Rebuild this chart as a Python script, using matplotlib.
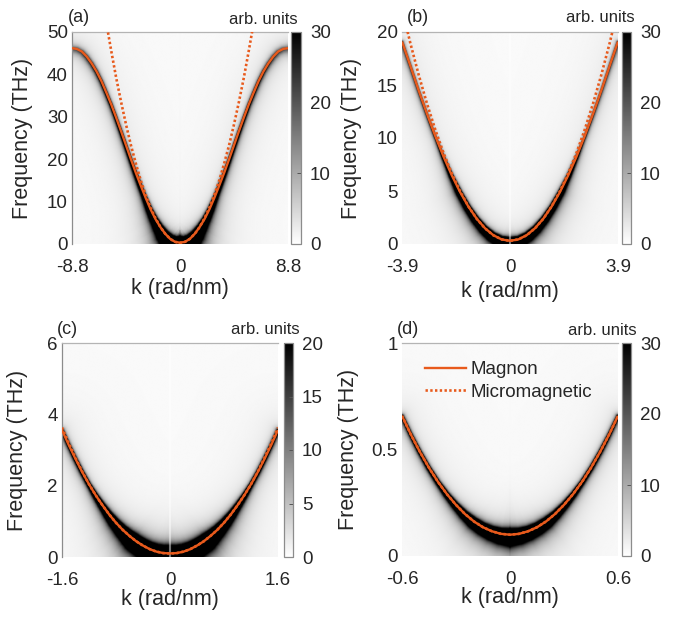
import numpy as np
import matplotlib
matplotlib.use("Agg")
import matplotlib.pyplot as plt
from matplotlib.lines import Line2D

plt.rcParams['font.family'] = ['Liberation Sans', 'DejaVu Sans']

W, H, DPI = 689, 618, 100
ORANGE = '#E85A1C'
TXT = '#262626'
FS_TICK, FS_LAB, FS_PANEL, FS_ARB, FS_LEG = 13.5, 15.5, 13, 12, 13.5

# ---------------- dispersion data (k >= 0 branch; curves are even in k) ----------------
# (a) whole zone
k_a = [0.0, 0.4, 0.8, 1.2, 1.6, 2.0, 2.4, 2.8, 3.2, 3.6, 4.0, 4.4,
       4.8, 5.2, 5.6, 6.0, 6.4, 6.8, 7.2, 7.6, 8.0, 8.4, 8.8]
magnon_a = [0.3, 0.5, 1.2, 2.4, 4.0, 5.9, 8.2, 10.9, 13.8, 16.8, 20.0, 23.3,
            26.6, 29.8, 32.9, 35.7, 38.4, 40.7, 42.6, 44.2, 45.4, 46.0, 46.2]
micro_k_a = [0.0, 0.4, 0.8, 1.2, 1.6, 2.0, 2.4, 2.8, 3.2, 3.6, 4.0, 4.4, 4.8, 5.2, 5.6, 6.0]
micro_a = [0.3, 0.5, 1.2, 2.4, 4.0, 6.1, 8.6, 11.6, 15.0, 19.0, 23.3, 28.2, 33.5, 39.2, 45.5, 52.1]

# (b)
k_b = [0.0, 0.3, 0.6, 0.9, 1.2, 1.5, 1.8, 2.1, 2.4, 2.7, 3.0, 3.3, 3.6, 3.9]
magnon_b = [0.30, 0.43, 0.83, 1.48, 2.38, 3.52, 4.89, 6.47, 8.24, 10.19, 12.29, 14.50, 16.82, 19.1]
micro_b = [0.30, 0.43, 0.82, 1.47, 2.37, 3.54, 4.97, 6.65, 8.59, 10.80, 13.26, 15.98, 18.96, 22.20]

# (c)
k_c = [0.0, 0.1, 0.2, 0.3, 0.4, 0.5, 0.6, 0.7, 0.8, 0.9, 1.0, 1.1, 1.2, 1.3, 1.4, 1.5, 1.6]
magnon_c = [0.10, 0.11, 0.15, 0.22, 0.32, 0.44, 0.59, 0.76, 0.96, 1.19, 1.45, 1.73, 2.04,
            2.38, 2.75, 3.14, 3.56]
micro_c = [0.10, 0.11, 0.15, 0.22, 0.32, 0.44, 0.59, 0.76, 0.96, 1.19, 1.45, 1.73, 2.04,
           2.39, 2.78, 3.19, 3.63]

# (d)
k_d = [0.0, 0.05, 0.1, 0.15, 0.2, 0.25, 0.3, 0.35, 0.4, 0.45, 0.5, 0.55, 0.6]
magnon_d = [0.100, 0.104, 0.116, 0.135, 0.162, 0.197, 0.240, 0.290, 0.348, 0.414, 0.488, 0.569, 0.658]
micro_d = [0.100, 0.104, 0.116, 0.135, 0.162, 0.197, 0.240, 0.290, 0.348, 0.414, 0.488, 0.569, 0.658]

# axis limits and tick labels
kmax = {'a': 8.8, 'b': 3.9, 'c': 1.6, 'd': 0.6}
fmax = {'a': 50, 'b': 20, 'c': 6, 'd': 1}
yticks = {'a': [0, 10, 20, 30, 40, 50], 'b': [0, 5, 10, 15, 20],
          'c': [0, 2, 4, 6], 'd': [0, 0.5, 1]}
ytick_labels = {'a': ['0', '10', '20', '30', '40', '50'], 'b': ['0', '5', '10', '15', '20'],
                'c': ['0', '2', '4', '6'], 'd': ['0', '0.5', '1']}
xtick_labels = {'a': ['-8.8', '0', '8.8'], 'b': ['-3.9', '0', '3.9'],
                'c': ['-1.6', '0', '1.6'], 'd': ['-0.6', '0', '0.6']}
cmax = {'a': 30, 'b': 30, 'c': 20, 'd': 30}
cticks = {'a': [0, 10, 20, 30], 'b': [0, 10, 20, 30], 'c': [0, 5, 10, 15, 20], 'd': [0, 10, 20, 30]}

curves = {'a': (k_a, magnon_a, micro_k_a, micro_a),
          'b': (k_b, magnon_b, k_b, micro_b),
          'c': (k_c, magnon_c, k_c, micro_c),
          'd': (k_d, magnon_d, k_d, micro_d)}

# spectral weight along the branch (vs |k|/kmax) and line-width settings
amp_nodes = {'a': ([0, 0.1, 0.2, 0.33, 0.45, 0.6, 0.8, 1.0], [220, 90, 30, 8, 4, 2.2, 1.1, 0.6]),
             'b': ([0, 0.24, 0.47, 0.68, 0.85, 1.0], [60, 26, 12, 1.8, 1.2, 1.0]),
             'c': ([0, 0.34, 0.52, 0.75, 0.92, 1.0], [150, 85, 26, 3.8, 2.0, 1.5]),
             'd': ([0, 0.33, 0.67, 1.0], [88, 35, 5, 1.5])}
# (w_below, w_below_edge, w_above, w_above_edge, k=0 stripe)
widths = {'a': (0.006, 0.015, 0.002, 0.012, +0.25),
          'b': (0.006, 0.004, 0.002, 0.003, -0.85),
          'c': (0.006, 0.004, 0.003, 0.003, -0.85),
          'd': (0.006, 0.004, 0.003, 0.003, +0.15)}

# panel geometry in pixels: axes (l, t, r, b), colorbar (l, r)
geom = {'a': ((72, 32, 288, 244), (291, 301)),
        'b': ((402, 32, 618, 244), (622, 631)),
        'c': ((62, 343, 278, 557), (284, 293)),
        'd': ((402, 343, 618, 556), (622, 631))}
ylab_x = {'a': 23, 'b': 352, 'c': 18, 'd': 349}
xlab_y = {'a': 289, 'b': 291, 'c': 600, 'd': 598}
plab = {'a': (68, 17.5), 'b': (407, 17), 'c': (57, 330), 'd': (397, 330)}
arb_pos = {'a': (298, 24), 'b': (635, 22), 'c': (300, 334), 'd': (637, 335)}


def rect(l, t, r, b):
    return [l / W, 1 - b / H, (r - l) / W, (b - t) / H]


def spectral_map(k_pts, f_pts, km, fm, nodes, wid, nx=330, ny=270):
    wl0, wl1, wh0, wh1, stripe = wid
    kk = np.linspace(-km, km, nx)
    ff = np.linspace(0, fm, ny)
    kc = np.linspace(-km, km, 500)
    fc = np.interp(np.abs(kc), k_pts, f_pts)
    xc, yc = kc / (2 * km), fc / fm
    xg = kk / (2 * km)
    dist = np.empty((ny, nx))
    near = np.empty((ny, nx), dtype=int)
    for j, f in enumerate(ff):
        d2 = (xg[:, None] - xc[None, :]) ** 2 + (f / fm - yc[None, :]) ** 2
        near[j] = np.argmin(d2, axis=1)
        dist[j] = np.sqrt(d2[np.arange(nx), near[j]])
    f0 = np.interp(np.abs(kk), k_pts, f_pts)
    below = ff[:, None] < f0[None, :]
    kn = np.abs(kc[near]) / km
    amp = np.exp(np.interp(kn, nodes[0], np.log(nodes[1])))
    w = np.where(below, wl0 + wl1 * kn ** 4, wh0 + wh1 * kn ** 4)
    inten = amp * w ** 2 / (dist ** 2 + w ** 2)
    inten += 0.04 * 0.12 ** 2 / (dist ** 2 + 0.12 ** 2) + 0.02
    inten = np.minimum(inten, 1.0)
    col = 1 + stripe * np.exp(-(kk / (km * 0.006)) ** 2)
    return inten * col[None, :]


fig = plt.figure(figsize=(W / DPI, H / DPI), dpi=DPI)

for p in ['a', 'b', 'c', 'd']:
    (l, t, r, b), (cl, cr) = geom[p]
    km, fm = kmax[p], fmax[p]
    kx, fy, mkx, mfy = curves[p]
    ax = fig.add_axes(rect(l, t, r, b))
    img = spectral_map(kx, fy, km, fm, amp_nodes[p], widths[p]) * cmax[p]
    im = ax.imshow(img, extent=[-km, km, 0, fm], origin='lower', aspect='auto',
                   cmap='gray_r', vmin=0, vmax=cmax[p], interpolation='bilinear')

    kx = np.asarray(kx); fy = np.asarray(fy)
    mkx = np.asarray(mkx); mfy = np.asarray(mfy)
    ax.plot(np.concatenate([-mkx[::-1], mkx[1:]]), np.concatenate([mfy[::-1], mfy[1:]]),
            color=ORANGE, lw=1.9, linestyle=(0, (0.9, 0.9)), dash_capstyle='butt',
            zorder=3)
    ax.plot(np.concatenate([-kx[::-1], kx[1:]]), np.concatenate([fy[::-1], fy[1:]]),
            color=ORANGE, lw=1.7, solid_capstyle='butt', zorder=4)

    ax.set_xlim(-km, km)
    ax.set_ylim(0, fm)
    ax.set_xticks([-km, 0, km])
    ax.set_xticklabels(xtick_labels[p])
    ax.set_yticks(yticks[p])
    ax.set_yticklabels(ytick_labels[p])
    ax.tick_params(length=0, labelsize=FS_TICK, colors=TXT)
    ax.tick_params(axis='x', pad=10.5)
    ax.tick_params(axis='y', pad=3)
    for s in ['bottom', 'right']:
        ax.spines[s].set_visible(False)
    ax.spines['top'].set_color('#b4b4b4')
    ax.spines['top'].set_linewidth(0.9)
    if p in ('a', 'c'):
        ax.spines['left'].set_color('#8c8c8c')
        ax.spines['left'].set_linewidth(0.9)
    else:
        ax.spines['left'].set_visible(False)

    # colorbar
    cax = fig.add_axes(rect(cl, t, cr, b))
    cb = fig.colorbar(im, cax=cax, ticks=cticks[p])
    cb.outline.set_edgecolor('#8c8c8c')
    cb.outline.set_linewidth(0.9)
    cax.tick_params(direction='in', length=3, width=0.7, color='#555555',
                    labelsize=FS_TICK, labelcolor=TXT, pad=6.5)
    ax_, ay_ = arb_pos[p]
    fig.text(ax_ / W, 1 - ay_ / H, 'arb. units', ha='right', va='baseline',
             fontsize=FS_ARB, color=TXT)

    # labels
    fig.text(ylab_x[p] / W, 1 - (t + b) / 2 / H, 'Frequency (THz)', rotation=90,
             ha='center', va='center', fontsize=FS_LAB, color=TXT)
    fig.text((l + r) / 2 / W, 1 - xlab_y[p] / H, 'k (rad/nm)', ha='center', va='center',
             fontsize=FS_LAB, color=TXT)
    px, py = plab[p]
    fig.text(px / W, 1 - py / H, f'({p})', ha='left', va='center', fontsize=FS_PANEL, color=TXT)

    if p == 'd':
        handles = [Line2D([], [], color=ORANGE, lw=1.7),
                   Line2D([], [], color=ORANGE, lw=1.9, linestyle=(0, (0.9, 0.9)),
                          dash_capstyle='butt')]
        ax.legend(handles, ['Magnon', 'Micromagnetic'], loc='upper left',
                  bbox_to_anchor=(0.07, 0.95), frameon=False, fontsize=FS_LEG,
                  handlelength=2.2, handletextpad=0.25, labelspacing=0.3,
                  borderaxespad=0.0, labelcolor=TXT)

fig.savefig('out.png', dpi=DPI)
